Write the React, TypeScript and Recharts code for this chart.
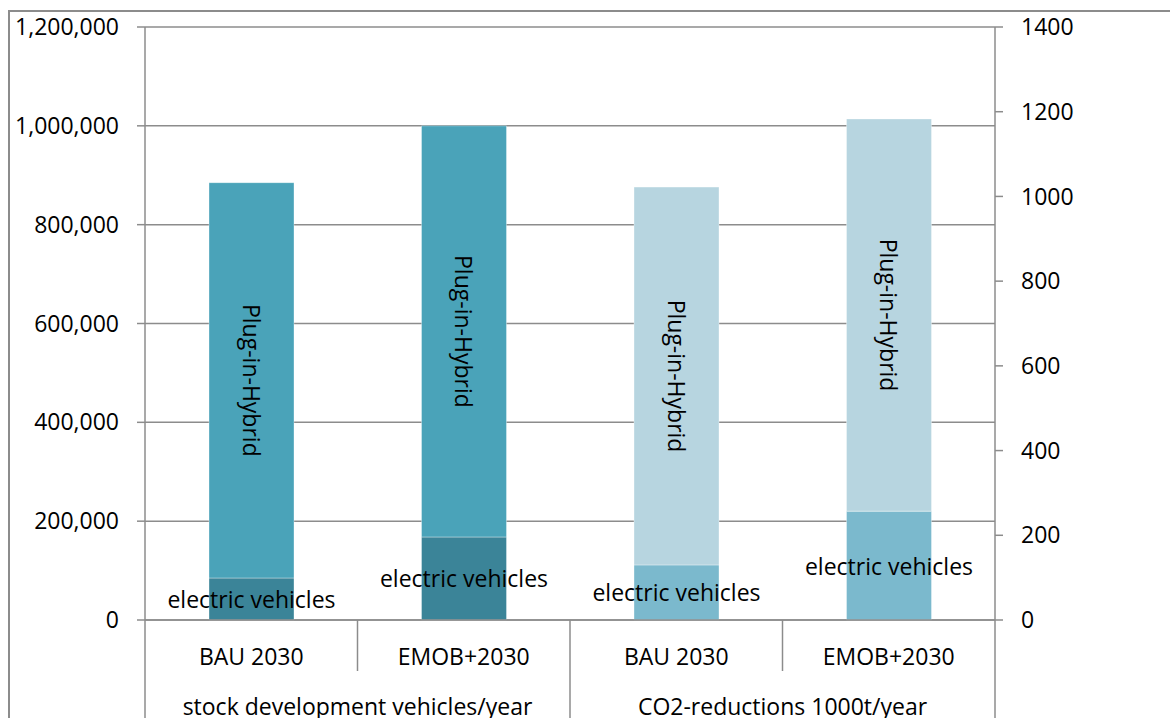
import React from "react";
import { BarChart, Bar, XAxis, YAxis, CartesianGrid, LabelList } from "recharts";

const categories = ["BAU 2030", "EMOB+2030", "BAU 2030", "EMOB+2030"];
const groups = [
  "stock development vehicles/year",
  "stock development vehicles/year",
  "CO2-reductions 1000t/year",
  "CO2-reductions 1000t/year",
];
const stockElectric = [85000, 168000, null, null];
const stockPlugIn = [800000, 832000, null, null];
const co2Electric = [null, null, 130, 257];
const co2PlugIn = [null, null, 892, 926];
const leftTicks = [0, 200000, 400000, 600000, 800000, 1000000, 1200000];
const rightTicks = [0, 200, 400, 600, 800, 1000, 1200, 1400];

const plugLabel = "Plug-in-Hybrid";
const evLabel = "electric vehicles";

const data = categories.map((c, i) => ({
  category: c,
  group: groups[i],
  stockElectric: stockElectric[i],
  stockPlugIn: stockPlugIn[i],
  co2Electric: co2Electric[i],
  co2PlugIn: co2PlugIn[i],
}));

const FONT = "'Open Sans', sans-serif";
const FS = 23;
const GRID = "#8c8c8c";

const fmt = (v: number) => v.toLocaleString("en-US");

const getBox = (p: any) => {
  const vb = p.viewBox && typeof p.viewBox.width === "number" ? p.viewBox : p;
  return { x: Number(vb.x), y: Number(vb.y), w: Number(vb.width), h: Number(vb.height) };
};

const renderPlug = (p: any) => {
  const { x, y, w, h } = getBox(p);
  if (!isFinite(h) || Math.abs(h) < 1) return null;
  const cx = x + w / 2;
  const cy = y + h / 2;
  return (
    <text
      x={cx}
      y={cy}
      transform={`rotate(90 ${cx} ${cy})`}
      textAnchor="middle"
      dominantBaseline="central"
      fontSize={FS}
      fontFamily={FONT}
      fill="#000"
    >
      {plugLabel}
    </text>
  );
};

const renderEv = (p: any) => {
  const { x, y, w, h } = getBox(p);
  if (!isFinite(h) || Math.abs(h) < 1) return null;
  const cx = x + w / 2;
  const cy = y + h / 2;
  return (
    <text
      x={cx}
      y={cy}
      textAnchor="middle"
      dominantBaseline="central"
      fontSize={FS}
      fontFamily={FONT}
      fill="#000"
    >
      {evLabel}
    </text>
  );
};

const CatTick = (props: any) => {
  const { x, y, payload, index } = props;
  const half = payload && payload.offset ? payload.offset : 106.25;
  const last = index === categories.length - 1;
  return (
    <g>
      <line x1={x - half} x2={x - half} y1={y} y2={y + 51} stroke={GRID} strokeWidth={1.5} />
      {last && <line x1={x + half} x2={x + half} y1={y} y2={y + 51} stroke={GRID} strokeWidth={1.5} />}
      <text x={x} y={y + 36} textAnchor="middle" dominantBaseline="central" fontSize={FS} fontFamily={FONT} fill="#000">
        {payload.value}
      </text>
    </g>
  );
};

const GroupTick = (props: any) => {
  const { x, y, payload, index } = props;
  const half = payload && payload.offset ? payload.offset : 212.5;
  const last = index === 1;
  return (
    <g>
      <line x1={x - half} x2={x - half} y1={y} y2={y + 80} stroke={GRID} strokeWidth={1.5} />
      {last && <line x1={x + half} x2={x + half} y1={y} y2={y + 80} stroke={GRID} strokeWidth={1.5} />}
      <text x={x} y={y + 35} textAnchor="middle" dominantBaseline="central" fontSize={FS} fontFamily={FONT} fill="#000">
        {payload.value}
      </text>
    </g>
  );
};

export default function App() {
  return (
    <div
      style={{
        position: "fixed",
        left: 0,
        top: 0,
        width: 1170,
        height: 718,
        overflow: "hidden",
        background: "#fff",
      }}
    >
      <div
        style={{
          position: "absolute",
          left: 8,
          top: 10,
          width: 1200,
          height: 760,
          border: "2px solid #8c8c8c",
        }}
      />
      <div style={{ position: "absolute", left: 10, top: 12 }}>
        <BarChart
          width={1160}
          height={718}
          data={data}
          margin={{ top: 15, right: 0, bottom: 0, left: 0 }}
          barSize={85}
        >
          <CartesianGrid yAxisId="left" xAxisId="cat" horizontal vertical={false} stroke={GRID} strokeWidth={1.5} />
          <XAxis
            xAxisId="cat"
            dataKey="category"
            height={51}
            tickLine={false}
            tickSize={0}
            tickMargin={0}
            axisLine={{ stroke: GRID, strokeWidth: 1.5 }}
            tick={<CatTick />}
            interval={0}
          />
          <XAxis
            xAxisId="grp"
            dataKey="group"
            allowDuplicatedCategory={false}
            height={59}
            tickLine={false}
            tickSize={0}
            tickMargin={0}
            axisLine={false}
            tick={<GroupTick />}
            interval={0}
          />
          <YAxis
            yAxisId="left"
            orientation="left"
            width={135}
            domain={[0, 1200000]}
            ticks={leftTicks}
            tickFormatter={fmt}
            tickSize={8}
            tickMargin={18}
            axisLine={{ stroke: GRID, strokeWidth: 1.5 }}
            tickLine={{ stroke: GRID, strokeWidth: 1.5 }}
            tick={{ fontSize: FS, fontFamily: FONT, fill: "#000" }}
            interval={0}
          />
          <YAxis
            yAxisId="right"
            orientation="right"
            width={175}
            domain={[0, 1400]}
            ticks={rightTicks}
            tickSize={8}
            tickMargin={18}
            axisLine={{ stroke: GRID, strokeWidth: 1.5 }}
            tickLine={{ stroke: GRID, strokeWidth: 1.5 }}
            tick={{ fontSize: FS, fontFamily: FONT, fill: "#000", textAnchor: "start" }}
            interval={0}
          />
          <Bar xAxisId="cat" yAxisId="left" dataKey="stockElectric" stackId="s" fill="#3b8498" stroke="rgba(255,255,255,0.35)" isAnimationActive={false}>
            <LabelList dataKey="stockElectric" content={renderEv} />
          </Bar>
          <Bar xAxisId="cat" yAxisId="left" dataKey="stockPlugIn" stackId="s" fill="#4aa3b9" stroke="rgba(255,255,255,0.35)" isAnimationActive={false}>
            <LabelList dataKey="stockPlugIn" content={renderPlug} />
          </Bar>
          <Bar xAxisId="cat" yAxisId="right" dataKey="co2Electric" stackId="s" fill="#7bb9cd" stroke="rgba(255,255,255,0.35)" isAnimationActive={false}>
            <LabelList dataKey="co2Electric" content={renderEv} />
          </Bar>
          <Bar xAxisId="cat" yAxisId="right" dataKey="co2PlugIn" stackId="s" fill="#b7d5e0" stroke="rgba(255,255,255,0.35)" isAnimationActive={false}>
            <LabelList dataKey="co2PlugIn" content={renderPlug} />
          </Bar>
        </BarChart>
      </div>
    </div>
  );
}
